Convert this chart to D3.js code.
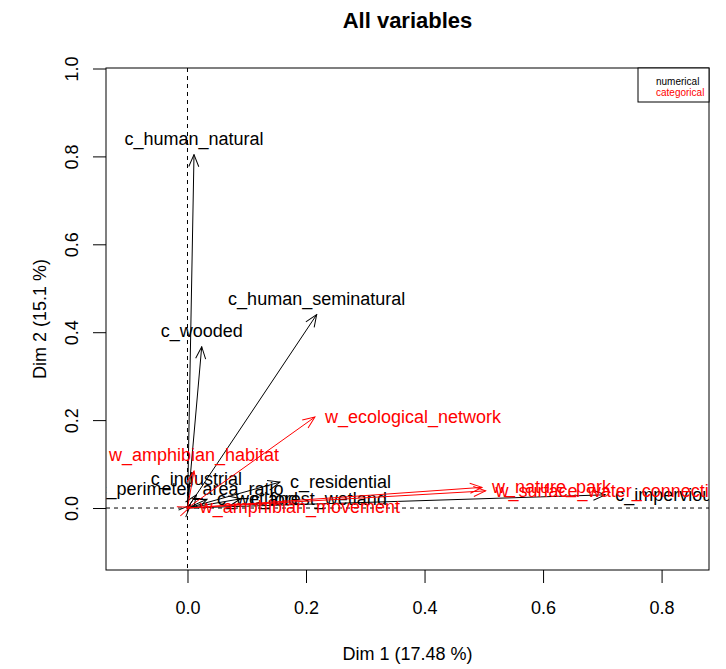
<!DOCTYPE html>
<html>
<head>
<meta charset="utf-8">
<script src="https://cdn.jsdelivr.net/npm/d3@7"></script>
<style>
  body { margin: 0; background: #fff; }
  svg { font-family: "Liberation Sans", Arial, Helvetica, sans-serif; }
</style>
</head>
<body>
<div id="chart"></div>
<script>
// numerical variables (black)
var numNames = ["c_human_natural", "c_wooded", "c_human_seminatural", "c_industrial",
                "c_perimeter_area_ratio", "c_residential", "c_wetland", "c_forest_wetland", "c_impervious"];
var numDim1 = [0.011, 0.024, 0.218, 0.015, 0.005, 0.156, 0.033, 0.090, 0.705];
var numDim2 = [0.804, 0.367, 0.440, 0.030, 0.007, 0.059, 0.020, 0.021, 0.030];

// categorical variables (red)
var catNames = ["w_ecological_network", "w_amphibian_habitat", "w_amphibian_movement",
                "w_nature_park", "w_surface_water_connection"];
var catDim1 = [0.215, 0.011, 0.004, 0.497, 0.503];
var catDim2 = [0.207, 0.084, 0.002, 0.047, 0.039];

var xTicks = [0, 0.2, 0.4, 0.6, 0.8];
var yTicks = [0, 0.2, 0.4, 0.6, 0.8, 1.0];

var W = 726, H = 669;
var margin = {left: 106, right: 17, top: 68, bottom: 99};

var svg = d3.select("#chart").append("svg")
    .attr("width", W)
    .attr("height", H);

var xScale = d3.scaleLinear()
    .domain([-0.1375, 0.88])
    .range([margin.left, W - margin.right]);

var yScale = d3.scaleLinear()
    .domain([-0.141, 1.0])
    .range([H - margin.bottom, margin.top + 0.5]);

// clip for everything inside the box
svg.append("clipPath").attr("id", "plotclip")
  .append("rect")
    .attr("x", margin.left)
    .attr("y", margin.top)
    .attr("width", W - margin.left - margin.right)
    .attr("height", H - margin.top - margin.bottom);

// arrow heads
var defs = svg.append("defs");
[["head-black", "#000"], ["head-red", "#ff0000"]].forEach(function(m) {
    defs.append("marker")
        .attr("id", m[0])
        .attr("viewBox", "-13 -7 14 14")
        .attr("refX", 0).attr("refY", 0)
        .attr("markerWidth", 14).attr("markerHeight", 14)
        .attr("markerUnits", "userSpaceOnUse")
        .attr("orient", "auto")
      .append("path")
        .attr("d", "M-12,-5 L0,0 L-12,5")
        .attr("fill", "none")
        .attr("stroke", m[1])
        .attr("stroke-width", 1);
});

var plot = svg.append("g").attr("clip-path", "url(#plotclip)");

// dashed zero lines
plot.append("line")
    .attr("x1", xScale(0)).attr("x2", xScale(0))
    .attr("y1", margin.top).attr("y2", H - margin.bottom)
    .attr("stroke", "#000").attr("stroke-dasharray", "4,4");
plot.append("line")
    .attr("x1", margin.left).attr("x2", W - margin.right)
    .attr("y1", yScale(0)).attr("y2", yScale(0))
    .attr("stroke", "#000").attr("stroke-dasharray", "4,4");

function drawGroup(names, d1, d2, color, marker) {
    var rows = names.map(function(n, i) { return {name: n, x: d1[i], y: d2[i]}; });
    var g = plot.append("g");
    g.selectAll("line.arrow")
        .data(rows)
        .enter().append("line")
        .attr("class", "arrow")
        .attr("x1", xScale(0)).attr("y1", yScale(0))
        .attr("x2", function(d) { return xScale(d.x); })
        .attr("y2", function(d) { return yScale(d.y); })
        .attr("stroke", color)
        .attr("stroke-width", 1)
        .attr("marker-end", "url(#" + marker + ")");
    // label above steep arrows, to the right of flat ones
    g.selectAll("text.lab")
        .data(rows)
        .enter().append("text")
        .attr("class", "lab")
        .attr("x", function(d) { return steep(d) ? xScale(d.x) : xScale(d.x) + 10; })
        .attr("y", function(d) { return steep(d) ? yScale(d.y) - 16 : yScale(d.y); })
        .attr("dominant-baseline", "central")
        .attr("text-anchor", function(d) { return steep(d) ? "middle" : "start"; })
        .attr("font-size", "18px")
        .attr("fill", color)
        .text(function(d) { return d.name; });
}
function steep(d) {
    return Math.atan2(d.y, d.x) * 180 / Math.PI > 50;
}

drawGroup(numNames, numDim1, numDim2, "#000", "head-black");
drawGroup(catNames, catDim1, catDim2, "#ff0000", "head-red");

// box
svg.append("rect")
    .attr("x", margin.left).attr("y", margin.top)
    .attr("width", W - margin.left - margin.right)
    .attr("height", H - margin.top - margin.bottom)
    .attr("fill", "none").attr("stroke", "#000");

// axes
var xAxis = d3.axisBottom(xScale).tickValues(xTicks).tickSize(13).tickPadding(18)
    .tickFormat(d3.format(".1f"));
var gX = svg.append("g")
    .attr("transform", "translate(0," + (H - margin.bottom) + ")")
    .call(xAxis);
gX.select(".domain").remove();
gX.selectAll("text").attr("font-size", "18px").attr("font-family", null);

var yAxis = d3.axisLeft(yScale).tickValues(yTicks).tickSize(13)
    .tickFormat(d3.format(".1f"));
var gY = svg.append("g")
    .attr("transform", "translate(" + margin.left + ",0)")
    .call(yAxis);
gY.select(".domain").remove();
gY.selectAll("text")
    .attr("font-size", "18px").attr("font-family", null)
    .attr("x", 0).attr("dy", null).attr("y", -34)
    .attr("dominant-baseline", "central")
    .attr("text-anchor", "middle")
    .attr("transform", "rotate(-90)");

// titles
svg.append("text")
    .attr("x", (margin.left + W - margin.right) / 2)
    .attr("y", 20)
    .attr("dominant-baseline", "central")
    .attr("text-anchor", "middle")
    .attr("font-size", "22px")
    .attr("font-weight", "bold")
    .text("All variables");

svg.append("text")
    .attr("x", (margin.left + W - margin.right) / 2)
    .attr("y", 654)
    .attr("dominant-baseline", "central")
    .attr("text-anchor", "middle")
    .attr("font-size", "18px")
    .text("Dim 1 (17.48 %)");

svg.append("text")
    .attr("transform", "translate(40," + (margin.top + H - margin.bottom) / 2 + ") rotate(-90)")
    .attr("dominant-baseline", "central")
    .attr("text-anchor", "middle")
    .attr("font-size", "18px")
    .text("Dim 2 (15.1 %)");

// legend
var lg = svg.append("g");
lg.append("rect")
    .attr("x", 638).attr("y", margin.top)
    .attr("width", W - margin.right - 638).attr("height", 34)
    .attr("fill", "#fff").attr("stroke", "#000");
lg.append("text").attr("x", 656).attr("y", 81)
    .attr("dominant-baseline", "central").attr("font-size", "10px")
    .attr("fill", "#000").text("numerical");
lg.append("text").attr("x", 656).attr("y", 92)
    .attr("dominant-baseline", "central").attr("font-size", "10px")
    .attr("fill", "#ff0000").text("categorical");
</script>
</body>
</html>
